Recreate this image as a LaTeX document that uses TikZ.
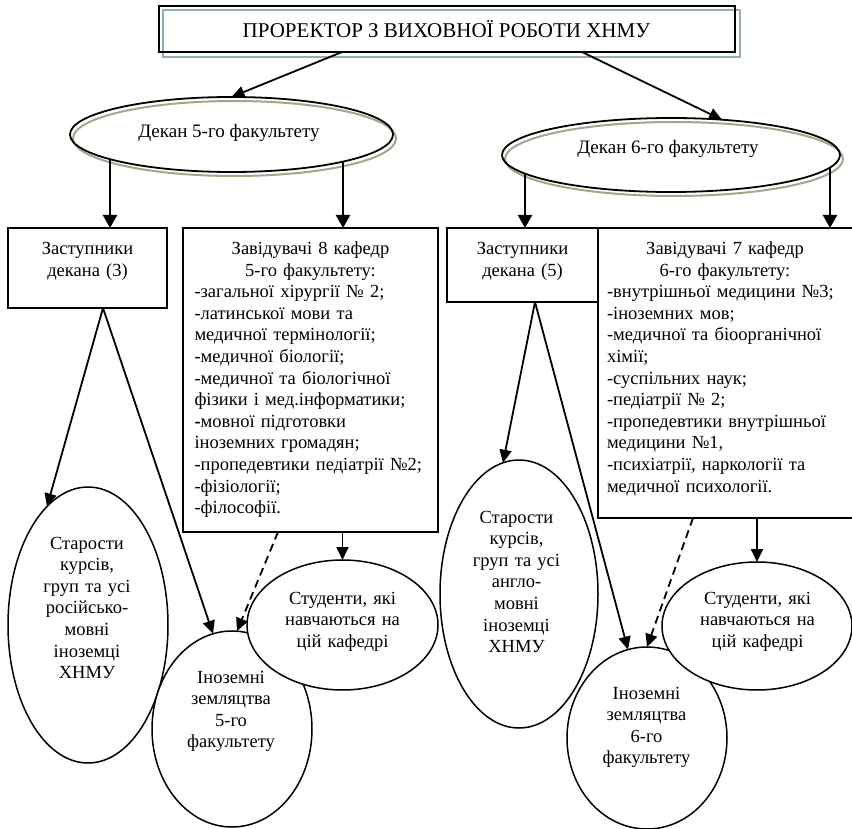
\documentclass[tikz,border=0pt]{standalone}
\usepackage{fontspec}
\setmainfont{Liberation Serif}
\usetikzlibrary{arrows.meta,shapes.geometric,calc}
\definecolor{boxshadow}{RGB}{150,172,185}
\definecolor{ellshadow}{RGB}{160,168,140}
\begin{document}
\begin{tikzpicture}[x=1pt,y=-1pt,
  box/.style={draw,line width=1.3pt,fill=white,inner sep=0pt,outer sep=0pt},
  ell/.style={draw,ellipse,line width=1.5pt,fill=white,inner sep=0pt,outer sep=0pt},
  txt/.style={font=\fontsize{18.5}{21.6}\selectfont,inner sep=0pt,anchor=base},
  arr/.style={line width=1.8pt,-{Triangle[length=13pt,width=12pt]}},
  darr/.style={arr,dash pattern=on 8pt off 5pt},
  barr/.style={line width=2.4pt,-{Triangle[length=13pt,width=14pt]}}]
\useasboundingbox (0,0) rectangle (852,829);
% top box
\node[draw=boxshadow,line width=2pt,minimum width=577pt,minimum height=47pt,inner sep=0pt,outer sep=0pt] (topsh) at (451.5,33.5) {};
\node[draw,line width=1.5pt,minimum width=576pt,minimum height=46pt,inner sep=0pt,outer sep=0pt] (top) at (447,29) {};
\node[txt,font=\fontsize{21}{24}\selectfont] (toptxt) at (446.5,38) {ПРОРЕКТОР З ВИХОВНОЇ РОБОТИ ХНМУ};
% deans
\node[ellipse,draw=ellshadow,line width=2pt,minimum width=323pt,minimum height=75pt,inner sep=0pt,outer sep=0pt] (d5sh) at (234.5,138.5) {};
\node[ellipse,draw,line width=1.8pt,minimum width=323pt,minimum height=75pt,inner sep=0pt,outer sep=0pt] (d5) at (231.5,134.5) {};
\node[txt,font=\fontsize{19}{22}\selectfont] (d5t) at (229,137.5) {Декан 5-го факультету};
\node[ellipse,draw=ellshadow,line width=2pt,minimum width=338pt,minimum height=74pt,inner sep=0pt,outer sep=0pt] (d6sh) at (674,159) {};
\node[ellipse,draw,line width=1.8pt,minimum width=338pt,minimum height=74pt,inner sep=0pt,outer sep=0pt] (d6) at (671,155) {};
\node[txt,font=\fontsize{19}{22}\selectfont] (d6t) at (668,154) {Декан 6-го факультету};
% boxes
\node[box,minimum width=159pt,minimum height=80pt] (z3) at (87.5,268) {};
\node[txt,text width=150pt,align=center] (z3t) at (87.5,254.5) {Заступники\\декана (3)};
\node[box,minimum width=255pt,minimum height=304pt] (zav8) at (310.5,380) {};
\node[txt,text width=232pt,align=left] (zav8t) at (310.5,254.5) {%
\makebox[232pt][c]{Завідувачі 8 кафедр}\\
\makebox[232pt][c]{5-го факультету:}\\
-загальної хірургії № 2;\\
-латинської мови та\\
медичної термінології;\\
-медичної біології;\\
-медичної та біологічної\\
фізики і мед.інформатики;\\
{\bfseries -}мовної підготовки\\
іноземних громадян;\\
-пропедевтики педіатрії №2;\\
-фізіології;\\
-філософії.};
\node[box,minimum width=151pt,minimum height=74pt] (z5) at (522.5,265) {};
\node[txt,text width=140pt,align=center] (z5t) at (522.5,254.5) {Заступники\\декана (5)};
\node[box,minimum width=257pt,minimum height=290pt] (zav7) at (726.5,373) {};
\node[txt,text width=236pt,align=left] (zav7t) at (725,254.5) {%
\makebox[236pt][c]{Завідувачі 7 кафедр}\\
\makebox[236pt][c]{6-го факультету:}\\
-внутрішньої медицини №3;\\
-іноземних мов;\\
-медичної та біоорганічної\\
хімії;\\
-суспільних наук;\\
-педіатрії № 2;\\
-пропедевтики внутрішньої\\
медицини №1,\\
-психіатрії, наркології та\\
медичної психології.};
% ellipses left
\node[ell,minimum width=160pt,minimum height=276pt] (st5) at (88,625) {};
\node[txt,text width=150pt,align=center] (st5t) at (87,549) {Старости\\курсів,\\груп та усі\\російсько-\\мовні\\іноземці\\ХНМУ};
\node[ell,minimum width=160pt,minimum height=196pt] (in5) at (232,729) {};
\node[txt,text width=150pt,align=center] (in5t) at (231,683) {Іноземні\\земляцтва\\5-го\\факультету};
\node[ell,minimum width=191pt,minimum height=130pt] (stud5) at (342.5,625) {};
\node[txt,text width=180pt,align=center] (stud5t) at (342.5,604) {Студенти, які\\навчаються на\\цій кафедрі};
% ellipses right
\node[ell,minimum width=158pt,minimum height=268pt] (st6) at (519,594) {};
\node[txt,text width=150pt,align=center] (st6t) at (516.5,523) {Старости\\курсів,\\груп та усі\\англо-\\мовні\\іноземці\\ХНМУ};
\node[ell,minimum width=160pt,minimum height=182pt] (in6) at (647,738) {};
\node[txt,text width=150pt,align=center] (in6t) at (646.5,699) {Іноземні\\земляцтва\\6-го\\факультету};
\node[ell,minimum width=190pt,minimum height=128pt] (stud6) at (757,626) {};
\node[txt,text width=180pt,align=center] (stud6t) at (757.5,604) {Студенти, які\\навчаються на\\цій кафедрі};
% connectors from top
\draw[arr] ([xshift=-105pt]top.south) -- (d5.north);
\draw[arr] ([xshift=135pt]top.south) -- ($(d6.center)+(51,-35.3)$);
% dean arrows
\coordinate (d5a) at ($(d5.center)+(-121.5,24.7)$);
\coordinate (d5b) at ($(d5.center)+(111.5,27.1)$);
\coordinate (d6a) at ($(d6.center)+(-146,18.6)$);
\coordinate (d6b) at ($(d6.center)+(159,12.5)$);
\draw[barr] (d5a) -- (d5a |- z3.north);
\draw[barr] (d5b) -- (d5b |- zav8.north);
\draw[barr] (d6a) -- (d6a |- z5.north);
\draw[barr] (d6b) -- (d6b |- zav7.north);
% lower connectors left
\draw[arr] ([xshift=15.5pt]z3.south) -- ($(st5.center)+(-41,-118.5)$);
\draw[arr] ([xshift=15.5pt]z3.south) -- ($(in5.center)+(-19,-95.2)$);
\draw[darr] ([xshift=-32.5pt]zav8.south) -- ($(in5.center)+(5,-97.8)$);
\draw[arr] (stud5.north |- zav8.south) -- (stud5.north);
% lower connectors right
\draw[arr] ([xshift=12.5pt]z5.south) -- ($(st6.center)+(-16,-131.2)$);
\draw[arr] ([xshift=12.5pt]z5.south) -- ($(in6.center)+(-19,-88.4)$);
\draw[darr] ([xshift=-33.5pt]zav7.south) -- (in6.north);
\draw[arr] (stud6.north |- zav7.south) -- (stud6.north);
\end{tikzpicture}
\end{document}
